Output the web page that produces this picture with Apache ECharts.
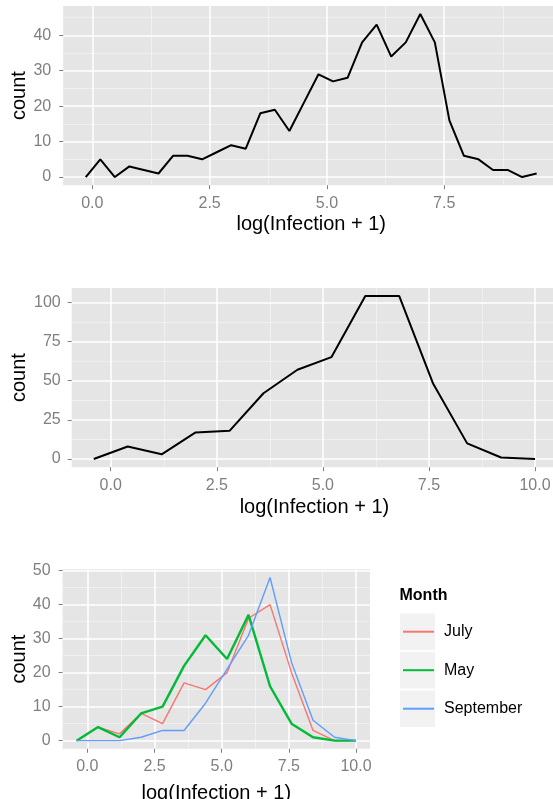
<!DOCTYPE html>
<html>
<head>
<meta charset="utf-8">
<title>log(Infection + 1) frequency polygons</title>
<script src="https://cdn.jsdelivr.net/npm/echarts@6/dist/echarts.min.js"></script>
<style>
  html, body { margin: 0; padding: 0; background: #ffffff; }
  #chart { width: 553px; height: 799px; }
</style>
</head>
<body>
<div id="chart"></div>
<script>
// ---- Data -------------------------------------------------------------
// Panel 1: all records, fine bins
const fineBinCenters = [-0.14, 0.17, 0.48, 0.79, 1.10, 1.41, 1.72, 2.03, 2.34, 2.65,
  2.96, 3.27, 3.58, 3.89, 4.20, 4.51, 4.82, 5.13, 5.44, 5.75,
  6.06, 6.37, 6.68, 6.99, 7.30, 7.61, 7.92, 8.23, 8.54, 8.85, 9.16, 9.47];
const fineCounts = [0, 5, 0, 3, 2, 1, 6, 6, 5, 7,
  9, 8, 18, 19, 13, 21, 29, 27, 28, 38,
  43, 34, 38, 46, 38, 16, 6, 5, 2, 2, 0, 1];

// Panel 2 and 3: coarse bins
const coarseBinCenters = [-0.4, 0.4, 1.2, 2.0, 2.8, 3.6, 4.4, 5.2, 6.0, 6.8, 7.6, 8.4, 9.2, 10.0];
const coarseCounts = [0, 8, 3, 17, 18, 42, 57, 65, 104, 104, 48, 10, 1, 0];

const months = ['July', 'May', 'September'];
const julyCounts = [0, 4, 2, 8, 5, 17, 15, 20, 36, 40, 20, 3, 0, 0];
const mayCounts = [0, 4, 1, 8, 10, 22, 31, 24, 37, 16, 5, 1, 0, 0];
const septemberCounts = [0, 0, 0, 1, 3, 3, 11, 21, 31, 48, 23, 6, 1, 0];
const monthColors = ['#F8766D', '#00BA38', '#619CFF'];
const monthWidths = [1.4, 2.4, 1.4];

// Axis tick values
const xTicks = [0, 2.5, 5, 7.5, 10];
const yTicksFine = [0, 10, 20, 30, 40];
const yTicksCoarse = [0, 25, 50, 75, 100];
const yTicksMonth = [0, 10, 20, 30, 40, 50];

// ---- Helpers ----------------------------------------------------------
const PANEL_BG = '#E5E5E5';
const MAJOR = '#FFFFFF';
const MINOR = '#F2F2F2';
const TICK_GREY = '#7F7F7F';
const FONT = '"Liberation Sans", Arial, Helvetica, sans-serif';

function pairs(xs, ys) { return xs.map((x, i) => [x, ys[i]]); }

// 5% expansion on each side of the data range
function expand(lo, hi) { const d = (hi - lo) * 0.05; return [lo - d, hi + d]; }

function inRange(vals, r) { return vals.filter(v => v >= r[0] && v <= r[1]); }

function minorOf(major, r) {
  const step = major[1] - major[0];
  const out = [];
  for (let i = -1; i < major.length; i++) out.push(major[0] + step * (i + 0.5));
  return inRange(out, r);
}

function majorAxis(position, gridIndex, range, ticks, labelMargin, fmt) {
  const vals = inRange(ticks, range);
  return {
    type: 'value', gridIndex, position, offset: 0, min: range[0], max: range[1], z: 2,
    axisLine: { show: false, onZero: false },
    axisTick: { show: true, length: 4, customValues: vals, lineStyle: { color: TICK_GREY, width: 1 } },
    axisLabel: {
      show: true, customValues: vals, margin: labelMargin, color: TICK_GREY,
      fontSize: 16, fontFamily: FONT, formatter: fmt,
      showMinLabel: true, showMaxLabel: true, hideOverlap: false
    },
    splitLine: { show: true, lineStyle: { color: MAJOR, width: 1.5 } }
  };
}

function minorAxis(position, gridIndex, range, ticks) {
  const vals = minorOf(ticks, range);
  return {
    type: 'value', gridIndex, position, offset: 0, min: range[0], max: range[1], z: 1,
    axisLine: { show: false, onZero: false },
    axisTick: { show: false, customValues: vals },
    axisLabel: { show: false, customValues: vals },
    splitLine: { show: true, lineStyle: { color: MINOR, width: 0.8 } }
  };
}

// ---- Panels -----------------------------------------------------------
const xr1 = expand(Math.min(...fineBinCenters), Math.max(...fineBinCenters));
const yr1 = expand(0, Math.max(...fineCounts));
const xr2 = expand(Math.min(...coarseBinCenters), Math.max(...coarseBinCenters));
const yr2 = expand(0, Math.max(...coarseCounts));
const xr3 = xr2;
const yr3 = expand(0, Math.max(...julyCounts, ...mayCounts, ...septemberCounts));

const grids = [
  { left: 63.2, top: 5.9, width: 496, height: 179.3 },
  { left: 71.7, top: 287.9, width: 485.4, height: 179.3 },
  { left: 62.6, top: 569.3, width: 307.4, height: 179.5 }
].map(g => Object.assign({ show: true, backgroundColor: PANEL_BG, borderWidth: 0, outerBoundsMode: 'none' }, g));

const fmtX = v => v.toFixed(1);
const fmtY = v => String(v);

// minor axes first so the white major lines sit above them
const xAxes = [
  minorAxis('bottom', 0, xr1, xTicks), majorAxis('bottom', 0, xr1, xTicks, 10, fmtX),
  minorAxis('bottom', 1, xr2, xTicks), majorAxis('bottom', 1, xr2, xTicks, 10, fmtX),
  minorAxis('bottom', 2, xr3, xTicks), majorAxis('bottom', 2, xr3, xTicks, 10, fmtX)
];
const yAxes = [
  minorAxis('left', 0, yr1, yTicksFine), majorAxis('left', 0, yr1, yTicksFine, 12, fmtY),
  minorAxis('left', 1, yr2, yTicksCoarse), majorAxis('left', 1, yr2, yTicksCoarse, 11, fmtY),
  minorAxis('left', 2, yr3, yTicksMonth), majorAxis('left', 2, yr3, yTicksMonth, 12, fmtY)
];

const blackLine = (name, gi, xs, ys) => ({
  name, type: 'line', xAxisIndex: gi * 2 + 1, yAxisIndex: gi * 2 + 1,
  data: pairs(xs, ys), showSymbol: false, symbol: 'none', z: 5,
  lineStyle: { color: '#000000', width: 2 }
});

const monthSeries = [julyCounts, mayCounts, septemberCounts].map((vals, i) => ({
  name: months[i], type: 'line', xAxisIndex: 5, yAxisIndex: 5,
  data: pairs(coarseBinCenters, vals), showSymbol: false, symbol: 'none', z: 5,
  color: monthColors[i],
  itemStyle: { color: monthColors[i] },
  lineStyle: { color: monthColors[i], width: monthWidths[i] }
}));

// ---- Titles and legend keys ------------------------------------------
const titleStyle = { fill: '#000000', font: '20px ' + FONT, align: 'center', verticalAlign: 'middle' };
function xTitle(g, cy) {
  return { type: 'text', x: g.left + g.width / 2, y: cy, silent: true,
    style: Object.assign({ text: 'log(Infection + 1)' }, titleStyle) };
}
function yTitle(g) {
  return { type: 'text', x: 19, y: g.top + g.height / 2, rotation: Math.PI / 2, silent: true,
    style: Object.assign({ text: 'count' }, titleStyle) };
}

const legendTop = 623.7;
const legendStep = 38.5;
const keyRects = months.map((m, i) => ({
  type: 'rect', z: 0, silent: true,
  shape: { x: 400, y: legendTop + 8 + i * legendStep - 18.2, width: 35, height: 36.4 },
  style: { fill: MINOR }
}));

const option = {
  animation: false,
  backgroundColor: '#ffffff',
  grid: grids,
  xAxis: xAxes,
  yAxis: yAxes,
  legend: {
    data: months, orient: 'vertical', left: 402, top: legendTop,
    itemWidth: 31, itemHeight: 16, itemGap: legendStep - 16, padding: 0,
    itemStyle: { opacity: 0 },
    textStyle: { fontSize: 16, fontFamily: FONT, color: '#000000', padding: [0, 0, 0, 5] },
    selectedMode: false
  },
  series: [
    blackLine('all', 0, fineBinCenters, fineCounts),
    blackLine('all coarse', 1, coarseBinCenters, coarseCounts)
  ].concat(monthSeries),
  graphic: [
    xTitle(grids[0], 224.7),
    xTitle(grids[1], 507.5),
    xTitle(grids[2], 793.5),
    yTitle(grids[0]),
    yTitle(grids[1]),
    yTitle(grids[2]),
    { type: 'text', x: 399.5, y: 596, silent: true,
      style: { text: 'Month', fill: '#000000', font: 'bold 16px ' + FONT, align: 'left', verticalAlign: 'middle' } }
  ].concat(keyRects)
};

const chart = echarts.init(document.getElementById('chart'), null, { renderer: 'canvas' });
chart.setOption(option);
</script>
</body>
</html>
